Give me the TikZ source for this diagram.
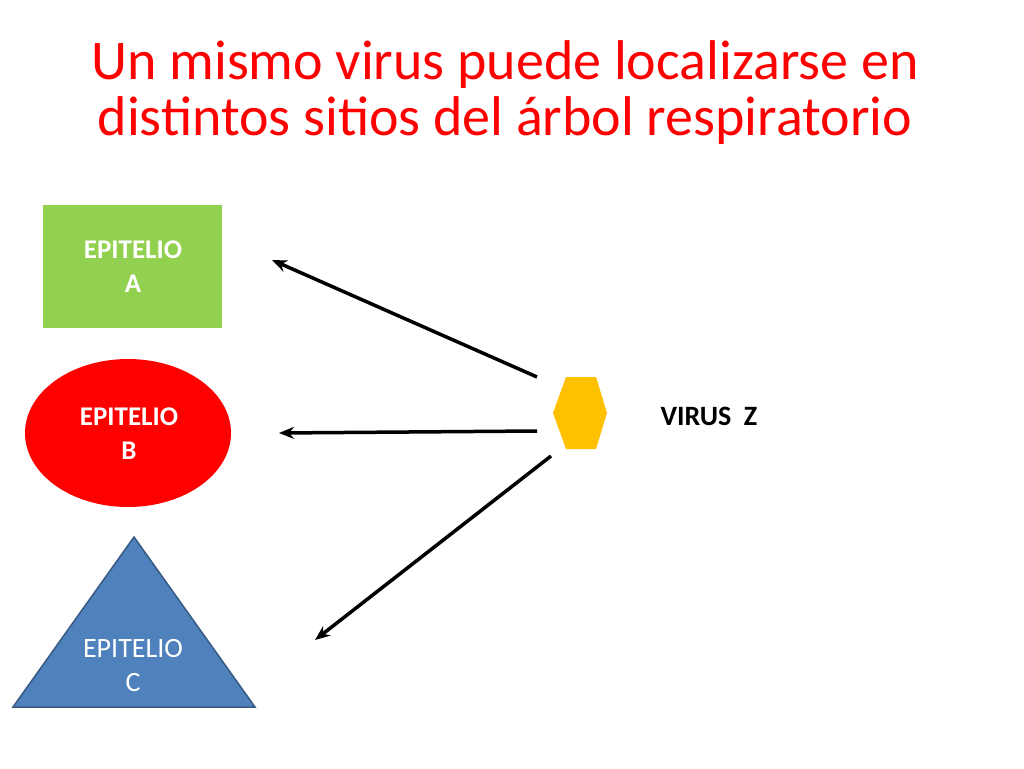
\documentclass[tikz,border=0pt]{standalone}
\usepackage{fontspec}
\setmainfont{Carlito}
\usetikzlibrary{arrows.meta}
\definecolor{tred}{HTML}{FF0000}
\definecolor{tgreen}{HTML}{92D050}
\definecolor{tblue}{HTML}{4F81BD}
\definecolor{tyel}{HTML}{FFC000}
\begin{document}
\begin{tikzpicture}[x=1pt,y=-1pt,
 lbl/.style={text=white,align=center,font=\fontsize{28}{34}\selectfont},
 arr/.style={line width=3.5pt,-{Stealth[length=15pt,width=12pt]}}]
\useasboundingbox (0,0) rectangle (1024,768);
\node[text=tred,align=center,font=\fontsize{56}{56}\selectfont] (title) at (505,93) {Un mismo virus puede localizarse en\\distintos sitios del árbol respiratorio};
\fill[tgreen] (43,205) rectangle (222,328);
\node[lbl,font=\bfseries\fontsize{27}{34}\selectfont] (a) at (133,267) {EPITELIO\\A};
\fill[tred] (128,433) ellipse [x radius=103, y radius=74];
\node[lbl,font=\bfseries\fontsize{27}{34}\selectfont] (b) at (129,434) {EPITELIO\\B};
\filldraw[fill=tblue,draw=tblue!70!black,line width=1.5pt] (134,537) -- (255,707) -- (13,707) -- cycle;
\node[lbl] (c) at (133,665) {EPITELIO\\C};
\fill[tyel] (566,377) -- (596,377) -- (607,413) -- (596,449) -- (566,449) -- (553,413) -- cycle;
\node[font=\bfseries\fontsize{28}{34}\selectfont] (vz) at (709,416) {VIRUS\ \ Z};
\coordinate (s1) at (537,377); \coordinate (e1) at (272,260);
\coordinate (s2) at (537,431); \coordinate (e2) at (279,433);
\coordinate (s3) at (551,456); \coordinate (e3) at (315,640);
\draw[arr] (s1) -- (e1);
\draw[arr] (s2) -- (e2);
\draw[arr] (s3) -- (e3);
\end{tikzpicture}
\end{document}
